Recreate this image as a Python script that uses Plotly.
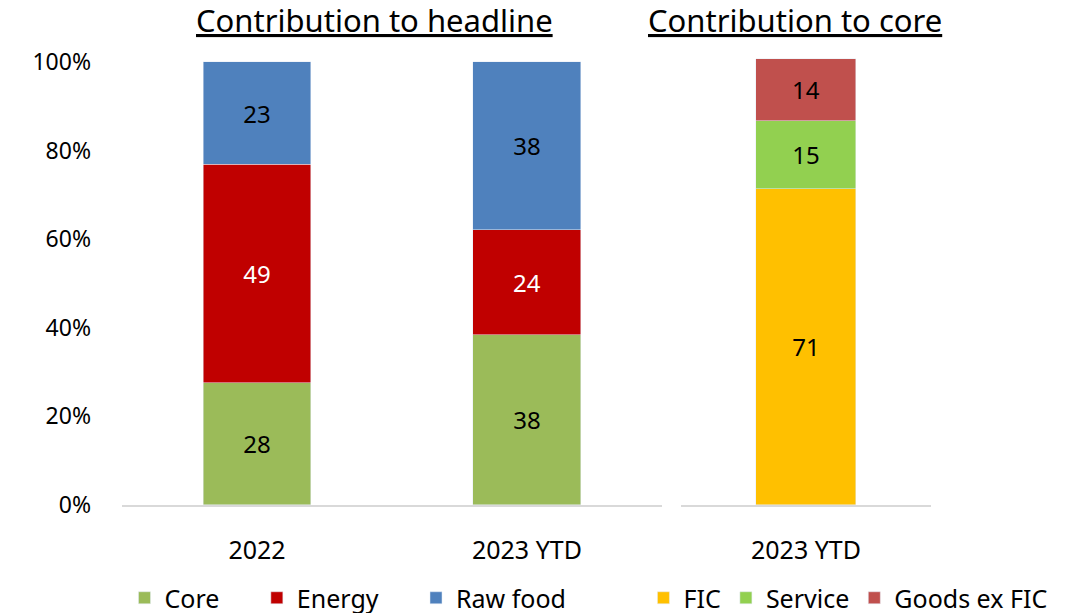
import plotly.graph_objects as go

left_categories = ["2022", "2023 YTD"]
core = [27.6, 38.4]
energy = [49.3, 23.7]
raw_food = [23.1, 37.9]

right_categories = ["2023 YTD"]
fic = [71.4]
service = [15.3]
goods_ex_fic = [14.0]

y_ticks = [0, 20, 40, 60, 80, 100]
y_tick_labels = ["0%", "20%", "40%", "60%", "80%", "100%"]

FONT = "Noto Sans"
PAD = "\u00a0" * 5

def lab(vals):
    return [f"{round(v + 1e-9):d}" for v in vals]

fig = go.Figure()
left_series = [
    ("Core", core, "#9BBB59", "black", PAD),
    ("Energy", energy, "#C00000", "white", PAD),
    ("Raw food", raw_food, "#4F81BD", "black", ""),
]
for name, vals, col, tc, pad in left_series:
    fig.add_trace(go.Bar(
        x=left_categories, y=vals, name=name + pad, marker_color=col,
        text=lab(vals), textposition="inside", insidetextanchor="middle",
        textfont=dict(color=tc, size=24, family=FONT), textangle=0,
        xaxis="x", yaxis="y", legend="legend", hoverinfo="skip",
    ))
right_series = [
    ("FIC", fic, "#FFC000", "black"),
    ("Service", service, "#92D050", "black"),
    ("Goods ex FIC", goods_ex_fic, "#C0504D", "black"),
]
for name, vals, col, tc in right_series:
    fig.add_trace(go.Bar(
        x=right_categories, y=vals, name=name, marker_color=col,
        text=lab(vals), textposition="inside", insidetextanchor="middle",
        textfont=dict(color=tc, size=24, family=FONT), textangle=0,
        xaxis="x2", yaxis="y2", legend="legend2", hoverinfo="skip",
    ))

ydom = [0.1762, 0.9135]
fig.update_layout(
    width=1076, height=613,
    margin=dict(l=0, r=0, t=0, b=0, autoexpand=False),
    plot_bgcolor="white", paper_bgcolor="white",
    barmode="stack", bargap=0.6,
    font=dict(family=FONT, size=22, color="black"),
    uniformtext=dict(minsize=10, mode="show"),
    xaxis=dict(domain=[0.1134, 0.6152], showline=True, linecolor="#D9D9D9", linewidth=2,
               ticks="", tickfont=dict(size=25), ticklabelstandoff=22, automargin=False),
    yaxis=dict(domain=ydom, range=[0, 102], tickvals=y_ticks, ticktext=y_tick_labels,
               showgrid=False, zeroline=False, showline=False, ticks="", automargin=False,
               tickfont=dict(size=23), ticklabelstandoff=30, anchor="x"),
    xaxis2=dict(domain=[0.6329, 0.8652], showline=True, linecolor="#D9D9D9", linewidth=2,
                ticks="", tickfont=dict(size=25), ticklabelstandoff=22, anchor="y2",
                automargin=False),
    yaxis2=dict(domain=ydom, range=[0, 102], showgrid=False, zeroline=False,
                showline=False, showticklabels=False, anchor="x2", automargin=False),
    legend=dict(orientation="h", x=0.1157, y=1 - 598/613, xanchor="left", yanchor="middle",
                font=dict(size=25), itemwidth=30, traceorder="normal",
                bgcolor="rgba(0,0,0,0)"),
    legend2=dict(orientation="h", x=0.598, y=1 - 598/613, xanchor="left", yanchor="middle",
                 font=dict(size=25), itemwidth=30, traceorder="normal",
                 bgcolor="rgba(0,0,0,0)"),
    annotations=[
        dict(text="<u>Contribution to headline</u>", x=374/1076, y=1 - 20/613,
             xref="paper", yref="paper", showarrow=False, font=dict(size=31),
             xanchor="center", yanchor="middle"),
        dict(text="<u>Contribution to core</u>", x=794.5/1076, y=1 - 20/613,
             xref="paper", yref="paper", showarrow=False, font=dict(size=31),
             xanchor="center", yanchor="middle"),
    ],
)
fig.write_html("out.html", config={"displayModeBar": False},
               post_script="document.body.style.margin='0';document.body.style.overflow='hidden';")
